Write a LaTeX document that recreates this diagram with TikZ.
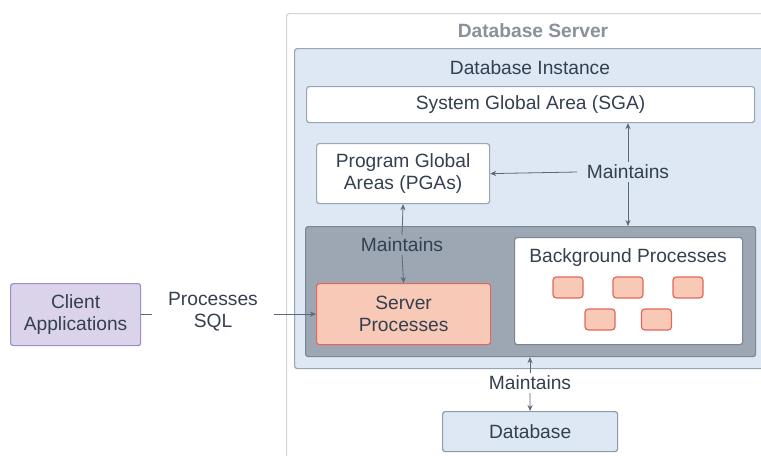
\documentclass[tikz,border=0pt]{standalone}
\usepackage{fontspec}
\setmainfont{Liberation Sans}
\usetikzlibrary{arrows.meta}

\definecolor{txt}{RGB}{52,64,80}
\definecolor{ttl}{RGB}{138,145,153}
\definecolor{lin}{RGB}{92,104,118}
\definecolor{frame}{RGB}{154,165,177}
\definecolor{instfill}{RGB}{221,232,244}
\definecolor{corefill}{RGB}{156,167,179}
\definecolor{coreline}{RGB}{122,134,147}
\definecolor{procfill}{RGB}{248,201,182}
\definecolor{procline}{RGB}{226,104,92}
\definecolor{clifill}{RGB}{218,211,234}
\definecolor{cliline}{RGB}{156,143,200}

\tikzset{every picture/.style={line width=0.75pt}}
\tikzset{
  txtfont/.style={font=\fontsize{14.4}{16.5}\selectfont, text=txt},
  box/.style={draw=frame, line width=0.9pt, rounded corners=2pt, anchor=north west, inner sep=0pt, txtfont, align=center},
  chip/.style={draw=procline, fill=procfill, line width=0.9pt, rounded corners=2.5pt, minimum width=22.5pt, minimum height=15.75pt, inner sep=0pt},
  lbl/.style={txtfont, align=center, inner xsep=7pt, inner ysep=2pt},
  conn/.style={draw=lin, line width=0.6pt},
  tip/.style={conn, -{Stealth[length=4.5pt,width=3.8pt]}},
}

\begin{document}
\begin{tikzpicture}[x=0.75pt,y=0.75pt,yscale=-1,xscale=1]
\clip (0,0) rectangle (761,455);
\fill[white] (0,0) rectangle (761,455);

%Shape: Rectangle [server]
\node [box, draw={rgb,255:red,208;green,213;blue,218}, fill=white, minimum width=366.75pt, minimum height=342.75pt] (server) at (286,13) {};
%Shape: Rectangle [instance]
\node [box, fill=instfill, minimum width=360.75pt, minimum height=240pt] (instance) at (294,48) {};
%Shape: Rectangle [sga]
\node [box, fill=white, minimum width=336pt, minimum height=27pt] (sga) at (306,86) {System Global Area (SGA)};
%Shape: Rectangle [pga]
\node [box, fill=white, minimum width=129.75pt, minimum height=45pt] (pga) at (316,143) {Program Global\\Areas (PGAs)};
%Shape: Rectangle [core]
\node [box, draw=coreline, fill=corefill, minimum width=337.5pt, minimum height=97.5pt] (core) at (305,226) {};
%Shape: Rectangle [srv]
\node [box, draw=procline, fill=procfill, minimum width=130.5pt, minimum height=45.75pt] (srv) at (316,283) {Server\\Processes};
%Shape: Rectangle [bg]
\node [box, draw=coreline, fill=white, minimum width=171pt, minimum height=80.25pt] (bg) at (514,237) {};
%Shape: Rectangle [client]
\node [box, draw=cliline, fill=clifill, minimum width=97.5pt, minimum height=46.5pt] (client) at (10,283) {Client\\Applications};
%Shape: Rectangle [db]
\node [box, draw={rgb,255:red,143;green,154;blue,166}, fill=instfill, minimum width=131.25pt, minimum height=30pt] (db) at (442,411) {Database};

%Rounded Rect [chips]
\foreach \cx/\cy [count=\i] in {568/287.5, 628/287.5, 688/287.5, 600/319.5, 656.5/319.5}
  \node [chip] (bp\i) at (\cx,\cy) {};

% Text Node
\node [txtfont, text=ttl, font=\bfseries\fontsize{14.4}{16.5}\selectfont] (servertitle) at (533,31) {Database Server};
% Text Node
\node [txtfont] (insttitle) at (530,68) {Database Instance};
% Text Node
\node [txtfont] (bgtitle) at (628,257.5) {Background Processes};
% Text Node
\node [lbl] (mright) at (628,172) {Maintains};
% Text Node
\node [lbl] (mmid) at (402,245) {Maintains};
% Text Node
\node [lbl] (mbot) at (530,383) {Maintains};
% Text Node
\node [lbl, inner xsep=12pt] (psql) at (213,312) {Processes\\SQL};

% Connection
\draw [tip] (mright.north) -- (mright |- sga.south);
% Connection
\draw [tip] (mright.south) -- (mright |- core.north);
% Connection
\draw [tip] (mright.west) -- (pga.east);
% Connection
\draw [tip] (mmid.north) -- (pga.south);
% Connection
\draw [tip] (mmid.south) -- (srv.north);
% Connection
\draw [tip] (mbot.north) -- (mbot |- core.south);
% Connection
\draw [tip] (mbot.south) -- (db.north);
% Connection
\draw [conn] (client.east) -- (client.east -| psql.west);
% Connection
\draw [tip] (psql.east |- srv.west) -- (srv.west);

\end{tikzpicture}
\end{document}
